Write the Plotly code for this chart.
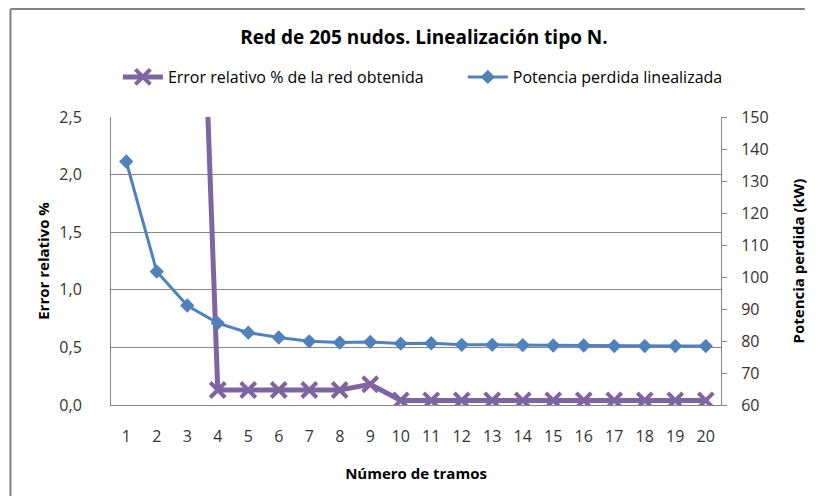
import plotly.graph_objects as go

tramos = list(range(1, 21))
error_rel = [None, None, 7.5, 0.13, 0.13, 0.13, 0.13, 0.13, 0.18, 0.04,
             0.04, 0.04, 0.04, 0.04, 0.04, 0.04, 0.04, 0.04, 0.04, 0.04]
potencia = [136.1, 101.7, 91.1, 85.6, 82.6, 81.1, 79.9, 79.5, 79.7, 79.2,
            79.3, 78.8, 78.8, 78.7, 78.6, 78.6, 78.4, 78.4, 78.4, 78.4]
left_ticks = [0.0, 0.5, 1.0, 1.5, 2.0, 2.5]
right_ticks = [60, 70, 80, 90, 100, 110, 120, 130, 140, 150]

PURPLE = "#8064A2"
BLUE = "#4F81BD"
GRID = "#868686"
FONT = "Open Sans"
TICKC = "#333333"

fig = go.Figure()
fig.add_trace(go.Scatter(
    x=tramos, y=error_rel, name="Error relativo % de la red obtenida",
    mode="lines+markers", yaxis="y", legend="legend",
    line=dict(color=PURPLE, width=5),
    marker=dict(symbol="x-thin", size=15, color=PURPLE,
                line=dict(color=PURPLE, width=4)),
    connectgaps=False,
))
fig.add_trace(go.Scatter(
    x=tramos, y=potencia, name="Potencia perdida linealizada",
    mode="lines+markers", yaxis="y2", legend="legend2",
    line=dict(color=BLUE, width=3),
    marker=dict(symbol="diamond", size=11, color=BLUE),
))

# page has an 8px body margin; figure origin sits at page (8, 8)
OFF = 8
W, H = 808, 488
L = 111 - OFF
T = 117 - OFF
R = W - (730 - OFF)
B = H - (405 - OFF)
pw = W - L - R
ph = H - T - B


def px_x(page_x):
    return (page_x - OFF - L) / pw


def px_y(page_y):
    return (H - B - (page_y - OFF)) / ph


def legend_at(page_x):
    return dict(orientation="h", x=px_x(page_x), xanchor="left",
                y=px_y(77), yanchor="middle",
                font=dict(size=16, family=FONT, color="#000000"),
                itemwidth=40, bgcolor="rgba(0,0,0,0)")


fig.update_layout(
    width=W, height=H,
    margin=dict(l=L, r=R, t=T, b=B),
    paper_bgcolor="white", plot_bgcolor="white",
    separators=",.",
    font=dict(family=FONT, color="#000000"),
    showlegend=True,
    legend=legend_at(118),
    legend2=legend_at(468),
    title=dict(text="<b>Red de 205 nudos. Linealización tipo N.</b>",
               x=(424 - OFF) / W, xanchor="center",
               y=1 - (37 - OFF) / H, yanchor="middle",
               font=dict(size=19, family=FONT, color="#000000")),
    xaxis=dict(
        range=[0.5, 20.5], tickmode="array", tickvals=tramos,
        ticktext=[str(t) for t in tramos],
        showgrid=False, zeroline=False,
        showline=True, linecolor=GRID, linewidth=1,
        ticks="", ticklabelstandoff=17,
        tickfont=dict(size=16, color=TICKC),
        title=dict(text="<b>Número de tramos</b>", standoff=22,
                   font=dict(size=15, color="#000000")),
    ),
    yaxis=dict(
        range=[0, 2.5], tickmode="array", tickvals=left_ticks,
        tickformat=".1f",
        showgrid=True, gridcolor=GRID, gridwidth=1, zeroline=False,
        showline=True, linecolor=GRID, linewidth=1,
        ticks="", ticklabelstandoff=25,
        tickfont=dict(size=16, color=TICKC),
        title=dict(text="<b>Error relativo %</b>", standoff=6,
                   font=dict(size=15, color="#000000")),
    ),
    yaxis2=dict(
        range=[60, 150], tickmode="array", tickvals=right_ticks,
        overlaying="y", side="right",
        showgrid=False, zeroline=False,
        showline=True, linecolor=GRID, linewidth=1,
        ticks="outside", ticklen=5, tickcolor=GRID,
        ticklabelstandoff=11,
        tickfont=dict(size=16, color=TICKC),
        title=dict(text="<b>Potencia perdida (kW)</b>", standoff=25,
                   font=dict(size=15, color="#000000")),
    ),
    shapes=[
        dict(type="line", xref="paper", yref="paper",
             x0=px_x(9), x1=px_x(9), y0=px_y(530), y1=px_y(9),
             line=dict(color="#808080", width=2)),
        dict(type="line", xref="paper", yref="paper",
             x0=px_x(9), x1=px_x(815), y0=px_y(9), y1=px_y(9),
             line=dict(color="#808080", width=2)),
    ],
)

fig.write_html("out.html")
